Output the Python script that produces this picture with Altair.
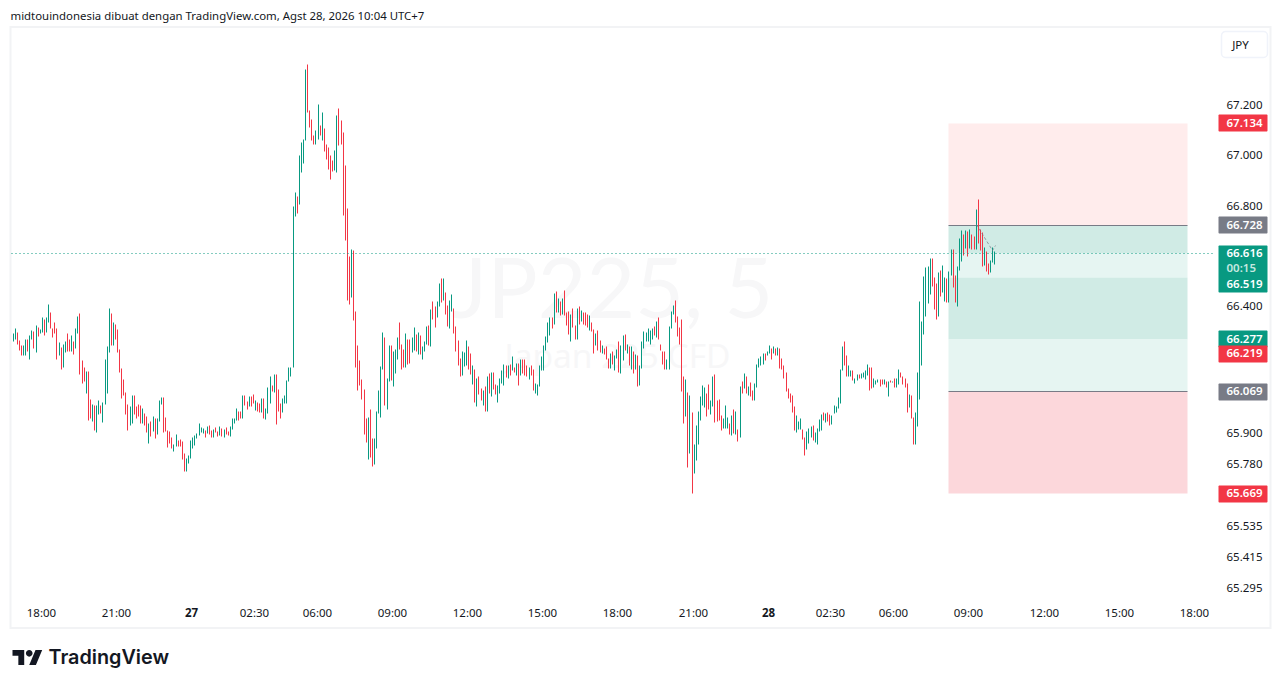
import altair as alt
import pandas as pd

highs = [
    66.293,66.297,66.317,66.301,66.273,66.253,66.253,66.277,66.277,66.289,
    66.309,66.305,66.332,66.324,66.313,66.360,66.356,66.360,66.415,66.380,
    66.320,66.344,66.317,66.265,66.245,66.257,66.269,66.297,66.277,66.289,
    66.269,66.317,66.364,66.376,66.194,66.166,66.150,66.150,66.039,66.019,
    66.013,66.016,66.035,66.016,66.027,66.198,66.249,66.396,66.376,66.344,
    66.336,66.313,66.237,66.162,66.118,66.067,66.019,66.012,66.055,66.055,
    66.012,66.019,66.014,66.004,65.984,65.972,65.944,65.952,65.972,65.964,
    65.964,66.035,66.047,66.047,65.968,65.917,65.913,65.889,65.861,65.901,
    65.877,65.881,65.873,65.825,65.806,65.818,65.877,65.889,65.897,65.905,
    65.944,65.928,65.924,65.917,65.932,65.936,65.917,65.920,65.928,65.913,
    65.932,65.924,65.920,65.928,65.913,65.932,65.964,65.964,66.004,65.992,
    65.992,66.055,66.055,66.031,66.051,66.051,66.059,66.035,66.027,66.023,
    66.043,66.043,66.004,66.087,66.130,66.095,66.138,66.138,66.079,66.023,
    66.043,66.055,66.115,66.166,66.166,66.803,66.859,66.843,67.005,67.057,
    67.069,67.350,67.370,67.187,67.148,67.084,67.104,67.211,67.124,67.179,
    67.112,67.049,67.037,67.005,66.985,67.025,67.164,67.195,67.144,67.096,
    66.966,66.795,66.604,66.633,66.629,66.384,66.253,66.194,66.119,66.079,
    65.964,65.968,66.000,65.885,65.885,65.992,66.075,66.170,66.301,66.281,
    66.123,66.253,66.253,66.226,66.237,66.281,66.344,66.257,66.237,66.297,
    66.277,66.277,66.281,66.321,66.293,66.301,66.289,66.249,66.269,66.328,
    66.332,66.392,66.424,66.404,66.424,66.495,66.515,66.515,66.459,66.408,
    66.428,66.451,66.396,66.325,66.273,66.202,66.226,66.222,66.273,66.249,
    66.218,66.174,66.158,66.123,66.130,66.083,66.075,66.091,66.130,66.142,
    66.146,66.146,66.099,66.095,66.123,66.154,66.178,66.174,66.174,66.178,
    66.206,66.166,66.182,66.182,66.198,66.198,66.198,66.174,66.166,66.174,
    66.158,66.103,66.099,66.174,66.206,66.253,66.285,66.344,66.360,66.360,
    66.455,66.463,66.439,66.424,66.439,66.467,66.380,66.384,66.372,66.396,
    66.332,66.396,66.404,66.388,66.380,66.380,66.372,66.368,66.344,66.313,
    66.297,66.309,66.273,66.253,66.241,66.249,66.202,66.221,66.229,66.210,
    66.237,66.269,66.253,66.289,66.293,66.257,66.249,66.249,66.229,66.217,
    66.210,66.174,66.269,66.305,66.301,66.317,66.309,66.317,66.328,66.348,
    66.360,66.257,66.229,66.229,66.198,66.328,66.384,66.408,66.431,66.364,
    66.324,66.356,66.130,66.118,66.067,66.055,65.988,65.861,65.936,65.992,
    66.051,66.095,66.087,66.063,66.099,66.035,66.130,66.138,66.035,66.039,
    65.976,65.964,66.016,65.968,65.944,65.976,66.000,65.992,65.920,66.091,
    66.111,66.142,66.130,66.091,66.107,66.075,66.103,66.178,66.202,66.206,
    66.221,66.221,66.229,66.253,66.241,66.249,66.241,66.245,66.241,66.202,
    66.174,66.146,66.083,66.063,66.055,66.012,65.976,65.952,65.964,65.920,
    65.889,65.913,65.924,65.932,65.936,65.909,65.924,65.960,65.980,65.988,
    65.984,65.988,65.980,65.976,66.016,66.012,66.047,66.158,66.249,66.269,
    66.210,66.174,66.154,66.154,66.122,66.138,66.138,66.142,66.146,66.154,
    66.178,66.166,66.166,66.122,66.115,66.119,66.119,66.119,66.119,66.111,
    66.111,66.115,66.111,66.122,66.122,66.158,66.146,66.130,66.122,66.103,
    66.059,66.055,65.968,65.988,66.146,66.424,66.348,66.525,66.558,66.562,
    66.594,66.594,66.522,66.495,66.542,66.550,66.566,66.522,66.515,66.546,
    66.633,66.633,66.530,66.562,66.677,66.705,66.689,66.705,66.701,66.709,
    66.689,66.681,66.792,66.831,66.709,66.697,66.641,66.625,66.574,66.586,
    66.641,66.625,
]
lows = [
    66.257,66.269,66.277,66.257,66.233,66.210,66.210,66.210,66.229,66.198,
    66.277,66.241,66.225,66.285,66.297,66.301,66.289,66.301,66.344,66.317,
    66.281,66.297,66.198,66.210,66.158,66.166,66.225,66.229,66.229,66.229,
    66.214,66.241,66.297,66.138,66.103,66.111,66.063,65.956,65.964,65.952,
    65.917,65.909,65.980,65.984,65.948,66.019,66.063,66.225,66.253,66.253,
    66.277,66.225,66.146,66.043,66.055,65.980,65.917,65.936,65.944,65.980,
    65.964,65.972,65.944,65.944,65.936,65.909,65.865,65.893,65.913,65.885,
    65.901,65.952,66.019,65.909,65.913,65.849,65.865,65.845,65.833,65.853,
    65.853,65.853,65.802,65.754,65.754,65.786,65.806,65.845,65.857,65.885,
    65.897,65.909,65.905,65.889,65.905,65.901,65.889,65.889,65.909,65.893,
    65.897,65.893,65.889,65.901,65.897,65.893,65.920,65.944,65.956,65.956,
    65.964,65.964,66.016,66.000,66.012,66.012,66.023,65.996,65.992,65.988,
    65.988,65.964,65.960,65.984,66.023,66.071,66.067,65.940,65.992,65.964,
    65.988,66.023,66.023,66.111,66.130,66.166,66.764,66.776,66.811,66.938,
    66.974,67.065,67.176,67.116,67.065,67.049,67.049,67.069,67.084,67.065,
    67.021,66.989,66.950,66.910,66.942,66.946,66.938,67.045,67.049,66.768,
    66.669,66.431,66.412,66.443,66.352,66.166,66.075,66.095,66.039,65.901,
    65.869,65.802,65.810,65.774,65.782,65.845,65.984,65.968,66.158,66.016,
    66.000,66.111,66.115,66.091,66.142,66.198,66.237,66.158,66.166,66.166,
    66.178,66.182,66.222,66.233,66.226,66.214,66.214,66.198,66.226,66.257,
    66.253,66.249,66.356,66.321,66.360,66.404,66.420,66.428,66.372,66.325,
    66.317,66.384,66.297,66.226,66.174,66.130,66.134,66.170,66.174,66.158,
    66.138,66.099,66.028,66.012,66.059,66.035,66.016,65.992,65.992,66.063,
    66.051,66.079,66.059,66.028,66.063,66.103,66.095,66.127,66.123,66.134,
    66.154,66.146,66.134,66.095,66.134,66.142,66.134,66.130,66.119,66.134,
    66.075,66.063,66.055,66.091,66.154,66.154,66.233,66.265,66.289,66.317,
    66.336,66.380,66.380,66.368,66.372,66.368,66.332,66.293,66.269,66.321,
    66.277,66.277,66.336,66.348,66.336,66.332,66.324,66.309,66.305,66.221,
    66.253,66.233,66.225,66.221,66.214,66.198,66.162,66.162,66.178,66.154,
    66.202,66.146,66.142,66.194,66.233,66.221,66.174,66.158,66.142,66.158,
    66.091,66.095,66.162,66.241,66.269,66.269,66.257,66.277,66.289,66.281,
    66.277,66.233,66.178,66.158,66.158,66.158,66.320,66.372,66.344,66.285,
    66.257,66.071,65.944,65.972,65.770,65.825,65.671,65.750,65.798,65.861,
    65.956,66.016,66.008,65.972,66.000,65.980,66.012,65.948,65.952,65.956,
    65.917,65.924,65.924,65.924,65.901,65.897,65.905,65.901,65.873,65.889,
    66.063,66.083,66.063,66.055,66.051,66.035,66.035,66.087,66.166,66.174,
    66.178,66.194,66.210,66.221,66.198,66.221,66.210,66.210,66.162,66.158,
    66.122,66.071,66.043,66.027,65.988,65.917,65.909,65.920,65.920,65.881,
    65.818,65.841,65.865,65.889,65.877,65.869,65.861,65.913,65.917,65.956,
    65.948,65.952,65.936,65.940,65.984,65.988,66.004,66.023,66.154,66.174,
    66.130,66.130,66.130,66.115,66.103,66.115,66.122,66.122,66.126,66.118,
    66.134,66.075,66.083,66.087,66.099,66.107,66.091,66.099,66.099,66.087,
    66.051,66.107,66.107,66.087,66.087,66.099,66.126,66.099,66.087,65.988,
    66.008,65.964,65.861,65.861,65.932,66.039,66.174,66.293,66.364,66.416,
    66.451,66.483,66.392,66.356,66.364,66.447,66.459,66.427,66.420,66.420,
    66.530,66.479,66.420,66.404,66.550,66.582,66.606,66.637,66.602,66.637,
    66.633,66.633,66.633,66.657,66.629,66.562,66.566,66.546,66.534,66.542,
    66.578,66.570,
]
dirs = (
    "RGGRRRGGRG" "GRGRGGRGGR" "RRRGRGGRRG" "RGGRRRGRRG" "RGGRGGGGRG"
    "RRRRRRRGGR" "RRRGRRGRGR" "GGGRRRRRGG" "RRRRGGGGGG" "GGGRGRRGRR"
    "GRGRRGGGGR" "RGRRGRRGRR" "GRGGGRGRRR" "GGGGGGGRGG" "GGRRRRGGRG"
    "RRRRRGGRRR" "RRRGRRRRRR" "RGRRGGGGGR" "GGRGGGRRRG" "RRGGRGRGGG"
    "RGRRGGRGRR" "GGRRRRGGGR" "RGRGRRGRGR" "GRRGGGGRGR" "GRGRGRRRGR"
    "RGGGGGGGGR" "GRGRGRRRGR" "RGRGRRRGRR" "GRRGRRRGRG" "GRGGRGRGRG"
    "RGGGGGGGRG" "RRRRGGGGRR" "RRRGRGRGGG" "GGGRRGGRRR" "RGGGRGRGRG"
    "RGRGRRGGGG" "GRGGRGRGRR" "RRRRRRGGGR" "RGGGRGGGGR" "GRRGGGGGGR"
    "RGGRGGRGGG" "GRRGGGRRGR" "GRGRGGRRRR" "GRRGGGGGGG" "GRRRGRGGRG"
    "GRRGGGRGRG" "RRGRRRGRRG" "GG"
)

# time axis, position of each label counted in 5 minute bars
tick_bars = [15, 51, 87, 117, 147, 183, 219, 255, 291, 327, 363, 393, 423, 459, 495, 531, 567]
tick_text = ["18:00", "21:00", "27", "02:30", "06:00", "09:00", "12:00", "15:00", "18:00",
             "21:00", "28", "02:30", "06:00", "09:00", "12:00", "15:00", "18:00"]
price_ticks = [67.2, 67.0, 66.8, 66.4, 65.9, 65.78, 65.535, 65.415, 65.295]

# position tool
box_start = 449
box_end = 563
zone_top = [67.134, 66.728, 66.616, 66.519, 66.277, 66.069]
zone_bottom = [66.728, 66.616, 66.519, 66.277, 66.069, 65.669]
zone_kind = ["stop", "dark", "light", "dark", "light", "loss"]
level_prices = [66.728, 66.069]
last_price = 66.616

# right hand price tags
tag_price = [67.134, 66.728, 66.277, 66.219, 66.069, 65.669]
tag_kind = ["red", "grey", "green", "red", "grey", "red"]
tag_half = 0.0335
green_tag_top = 66.649
green_tag_bottom = 66.460
green_text = ["66.616", "00:15", "66.519"]
green_text_price = [66.616, 66.556, 66.493]

# dashed path over the last bars
path_bars = [462.2, 469.7, 471.3]
path_prices = [66.729, 66.627, 66.647]

FONT = "Noto Sans"
INK = "#131722"

x_scale = alt.Scale(domain=[0.24, 576.6], round=True, nice=False, zero=False)
y_scale = alt.Scale(type="log", domain=[65.2525, 67.5144], round=True, nice=False, zero=False)

bars = pd.DataFrame({"i": range(len(highs)), "high": highs, "low": lows, "dir": list(dirs)})
zones = pd.DataFrame({"top": zone_top, "bottom": zone_bottom, "kind": zone_kind,
                      "a": box_start, "b": box_end})
levels = pd.DataFrame({"p": level_prices, "a": box_start, "b": box_end})
tags = pd.DataFrame({"p": tag_price, "kind": tag_kind})
tags["top"] = tags["p"] + tag_half
tags["bottom"] = tags["p"] - tag_half
tags["label"] = tags["p"].map("{:.3f}".format)
green_box = pd.DataFrame({"top": [green_tag_top], "bottom": [green_tag_bottom]})
green_labels = pd.DataFrame({"p": green_text_price, "label": green_text})
path = pd.DataFrame({"i": path_bars, "p": path_prices})
last = pd.DataFrame({"p": [last_price]})
time_labels = pd.DataFrame({"i": tick_bars, "label": tick_text})
price_labels = pd.DataFrame({"p": price_ticks})
price_labels["label"] = price_labels["p"].map("{:.3f}".format)

X_none = dict(scale=x_scale, axis=None)
Y_none = dict(scale=y_scale, axis=None)


def note(text, x, y, **kw):
    return alt.Chart(pd.DataFrame({"t": [text]})).mark_text(baseline="alphabetic", **kw).encode(
        text="t:N", x=alt.value(x), y=alt.value(y))


watermark = (
    note("JP225, 5", 601, 289, font="Lato", fontSize=84, color="#f7f7f8", align="center")
    + note("Japan 225 CFD", 606, 339, font=FONT, fontSize=33.5, color="#f7f7f8", align="center")
)

zone_layer = alt.Chart(zones).mark_rect().encode(
    x=alt.X("a:Q", **X_none),
    x2="b:Q",
    y=alt.Y("top:Q", **Y_none),
    y2="bottom:Q",
    color=alt.Color("kind:N", legend=None, scale=alt.Scale(
        domain=["stop", "dark", "light", "loss"],
        range=["#ffecec", "#d0ebe5", "#e6f5f2", "#fcd7db"])),
)

level_layer = alt.Chart(levels).mark_rule(color="#787b86", strokeWidth=1).encode(
    x=alt.X("a:Q", **X_none), x2="b:Q", y=alt.Y("p:Q", **Y_none))

bar_layer = alt.Chart(bars).mark_rule(strokeWidth=1, clip=True).encode(
    x=alt.X("i:Q", **X_none),
    y=alt.Y("high:Q", **Y_none),
    y2="low:Q",
    color=alt.Color("dir:N", legend=None, scale=alt.Scale(domain=["G", "R"], range=["#089981", "#f23645"])),
)

path_layer = alt.Chart(path).mark_line(color="#787b86", strokeWidth=1, strokeDash=[3, 2], opacity=0.7).encode(
    x=alt.X("i:Q", **X_none), y=alt.Y("p:Q", **Y_none))

last_layer = alt.Chart(last).mark_rule(color="#089981", strokeWidth=1, strokeDash=[1, 3]).encode(
    x=alt.value(0), x2=alt.value(1204), y=alt.Y("p:Q", **Y_none))

time_normal = alt.Chart(time_labels[~time_labels["label"].isin(["27", "28"])]).mark_text(
    font=FONT, fontSize=11.5, color=INK, dx=-1).encode(
    text="label:N", x=alt.X("i:Q", **X_none), y=alt.value(585))
time_bold = alt.Chart(time_labels[time_labels["label"].isin(["27", "28"])]).mark_text(
    font=FONT, fontSize=11.5, fontWeight="bold", color=INK, dx=-1).encode(
    text="label:N", x=alt.X("i:Q", **X_none), y=alt.value(585))
price_layer = alt.Chart(price_labels).mark_text(font=FONT, fontSize=11.5, color=INK, align="left", dy=-1).encode(
    text="label:N", x=alt.value(1215), y=alt.Y("p:Q", **Y_none))

tag_rect = alt.Chart(tags).mark_rect(cornerRadius=1).encode(
    x=alt.value(1207), x2=alt.value(1256),
    y=alt.Y("top:Q", **Y_none), y2="bottom:Q",
    color=alt.Color("kind:N", legend=None, scale=alt.Scale(
        domain=["red", "grey", "green"], range=["#f23645", "#787b86", "#089981"])),
)
tag_text = alt.Chart(tags).mark_text(font=FONT, fontSize=11.5, fontWeight=600, color="white", align="left").encode(
    text="label:N", x=alt.value(1215), y=alt.Y("p:Q", **Y_none))

green_rect = alt.Chart(green_box).mark_rect(color="#089981", cornerRadius=1).encode(
    x=alt.value(1207), x2=alt.value(1256), y=alt.Y("top:Q", **Y_none), y2="bottom:Q")
green_labels_layer = alt.Chart(green_labels).mark_text(font=FONT, fontSize=11.5, fontWeight=600, align="left").encode(
    text="label:N", x=alt.value(1215), y=alt.Y("p:Q", **Y_none),
    color=alt.condition("datum.label == '00:15'", alt.value("#c4e8e0"), alt.value("white")))

# outer frame, currency button, header and logo
frame = alt.Chart(pd.DataFrame({"a": [0]})).mark_rect(fill=None, stroke="#f2f3f5", strokeWidth=2).encode(
    x=alt.value(-1), x2=alt.value(1259), y=alt.value(-1.5), y2=alt.value(599.5))
button = alt.Chart(pd.DataFrame({"a": [0]})).mark_rect(fill="white", stroke="#f0f3fa", strokeWidth=1.5, cornerRadius=4).encode(
    x=alt.value(1210), x2=alt.value(1256), y=alt.value(3), y2=alt.value(29))
button_text = note("JPY", 1229, 20, font=FONT, fontSize=11.5, color=INK, align="center")
header = note("midtouindonesia dibuat dengan TradingView.com, Agst 28, 2026 10:04 UTC+7",
              -1, -9, font=FONT, fontSize=11.4, color=INK, align="left")
LOGO = ("M-0.211 0.507L-0.606 0.507L-0.606 -0.113L-1 -0.113L-1 -0.507L-0.211 -0.507Z"
        "M0.577 0.507L0.127 0.507L0.549 -0.507L1 -0.507Z"
        "M-0.098 -0.282a0.225 0.225 0 1 0 0.45 0a0.225 0.225 0 1 0 -0.45 0Z")
logo_mark = alt.Chart(pd.DataFrame({"a": [0]})).mark_point(shape=LOGO, size=882, filled=True, color=INK, opacity=1).encode(
    x=alt.value(15.85), y=alt.value(629))
logo_text = note("TradingView", 37, 635.5, font="Inter", fontSize=19.8, fontWeight=600, color=INK, align="left")

chart = alt.layer(
    frame, watermark, zone_layer, level_layer, bar_layer, path_layer, last_layer,
    time_normal, time_bold, price_layer,
    tag_rect, tag_text, green_rect, green_labels_layer,
    button, button_text, header, logo_mark, logo_text,
).resolve_scale(color="independent").properties(
    width=1204,
    height=572,
    autosize=alt.AutoSizeParams(type="none"),
    padding={"left": 3.5, "top": 20.5, "right": 57.5, "bottom": 69.5},
).configure_view(stroke=None)

chart.save("out.html", embed_options={"renderer": "svg", "actions": False})
